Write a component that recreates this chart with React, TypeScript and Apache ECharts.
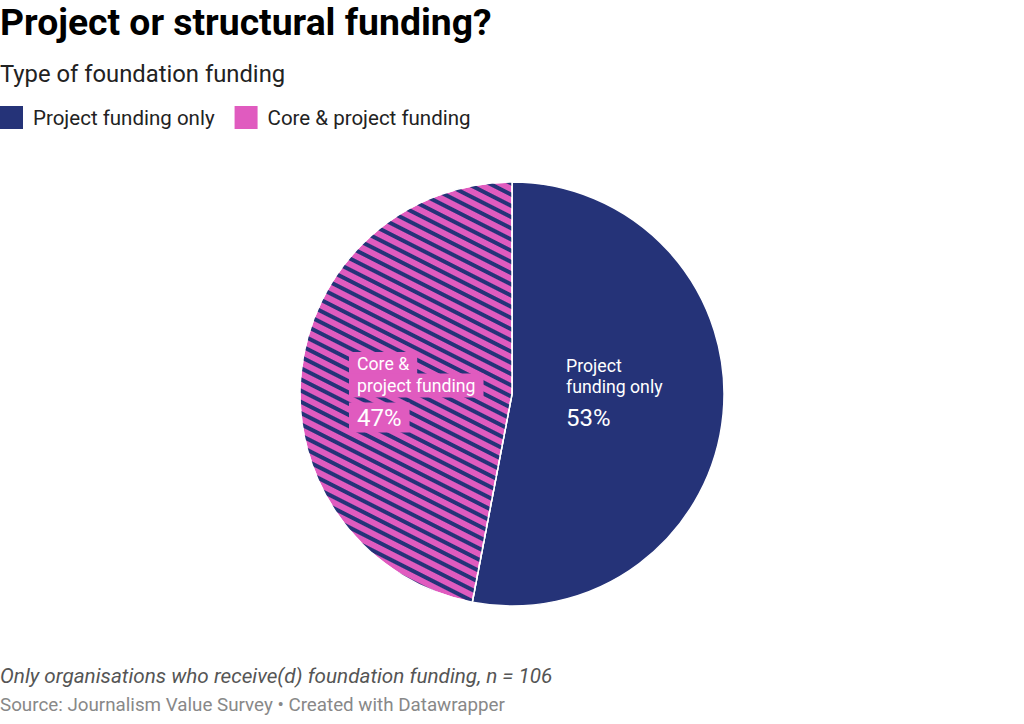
import React, { useEffect, useRef } from "react";
import * as echarts from "echarts";

const categories = ["Project funding only", "Core & project funding"];
const values = [53, 47];
const colors = ["#253378", "#e05bbf"];
const sliceLabels = ["Project\nfunding only", "Core &\nproject funding"];
const title = "Project or structural funding?";
const subtitle = "Type of foundation funding";
const note = "Only organisations who receive(d) foundation funding, n = 106";
const source = "Source: Journalism Value Survey • Created with Datawrapper";

const FONT = "Roboto, 'Noto Sans', sans-serif";

export default function App() {
  const ref = useRef<HTMLDivElement>(null);
  useEffect(() => {
    document.body.style.margin = "0";
    const chart = echarts.init(ref.current!, null, { renderer: "svg" });
    const navy = colors[0];
    const pink = colors[1];
    const pct = (v: number) => `${v}%`;
    const pinkLines = sliceLabels[1].split("\n");
    chart.setOption({
      animation: false,
      textStyle: { fontFamily: FONT },
      title: [
        {
          text: title,
          left: 0,
          top: 3,
          padding: 0,
          textStyle: { fontSize: 37.3, fontWeight: "bold", color: "#000", fontFamily: FONT },
        },
        {
          text: subtitle,
          left: 0,
          top: 62,
          padding: 0,
          textStyle: { fontSize: 23.8, fontWeight: "normal", color: "#222", fontFamily: FONT },
        },
        {
          text: note,
          left: 0,
          top: 665,
          padding: 0,
          textStyle: { fontSize: 20.7, fontWeight: "normal", fontStyle: "italic", color: "#555", fontFamily: FONT },
        },
        {
          text: source,
          left: 0,
          top: 695,
          padding: 0,
          textStyle: { fontSize: 18.8, fontWeight: "normal", color: "#888", fontFamily: FONT },
        },
      ],
      legend: {
        left: 0,
        top: 106,
        padding: 0,
        icon: "rect",
        itemWidth: 23,
        itemHeight: 23,
        itemGap: 20,
        selectedMode: false,
        textStyle: { fontSize: 20.5, color: "#222", fontFamily: FONT, padding: [0, 0, 0, 5] },
        data: categories.map((c, i) => ({ name: c, itemStyle: { color: colors[i], decal: "none", borderWidth: 0 } })),
      },
      series: [
        {
          type: "pie",
          center: [512, 394],
          radius: [0, 212],
          startAngle: 90,
          clockwise: true,
          label: { show: false },
          labelLine: { show: false },
          emphasis: { disabled: true },
          itemStyle: { borderColor: "#fff", borderWidth: 1.5 },
          data: categories.map((c, i) => ({
            name: c,
            value: values[i],
            itemStyle:
              i === 1
                ? {
                    color: pink,
                    decal: {
                      symbol: "rect",
                      symbolSize: 1,
                      dashArrayX: [1, 0],
                      dashArrayY: [3.5, 5.5],
                      rotation: 0.47,
                      color: navy,
                    },
                  }
                : { color: navy },
          })),
        },
      ],
      graphic: [
        {
          type: "text",
          left: 566,
          top: 355,
          z: 100,
          style: { text: sliceLabels[0], fill: "#fff", fontSize: 17.7, lineHeight: 21, fontFamily: FONT },
        },
        {
          type: "text",
          left: 566,
          top: 405,
          z: 100,
          style: { text: pct(values[0]), fill: "#fff", fontSize: 24, lineHeight: 26, fontFamily: FONT },
        },
        {
          type: "text",
          left: 349,
          top: 352,
          z: 100,
          style: {
            text: pinkLines[0],
            fill: "#fff",
            fontSize: 17.7,
            lineHeight: 20,
            fontFamily: FONT,
            backgroundColor: pink,
            padding: [2, 8, 2, 8],
          },
        },
        {
          type: "text",
          left: 349,
          top: 373.5,
          z: 100,
          style: {
            text: pinkLines[1],
            fill: "#fff",
            fontSize: 17.7,
            lineHeight: 20,
            fontFamily: FONT,
            backgroundColor: pink,
            padding: [2, 8, 2, 8],
          },
        },
        {
          type: "text",
          left: 349,
          top: 402.5,
          z: 100,
          style: {
            text: pct(values[1]),
            fill: "#fff",
            fontSize: 24,
            lineHeight: 26,
            fontFamily: FONT,
            backgroundColor: pink,
            padding: [2, 8, 2, 8],
          },
        },
      ],
    });
    return () => chart.dispose();
  }, []);
  return <div ref={ref} style={{ width: 1024, height: 724 }} />;
}
